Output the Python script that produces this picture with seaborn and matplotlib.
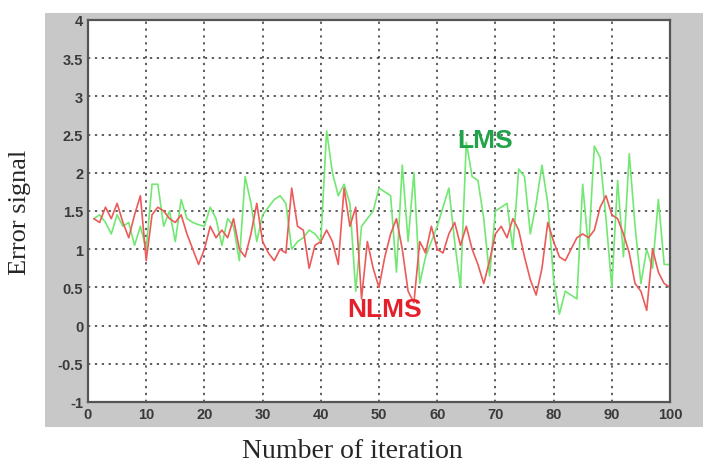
import numpy as np
import pandas as pd
import seaborn as sns
import matplotlib.pyplot as plt
from matplotlib.patches import Rectangle

# iteration index and error values
iterations = list(range(1, 101))

lms_error = [1.40, 1.45, 1.35, 1.20, 1.45, 1.30, 1.35, 1.05, 1.30, 1.00,
             1.85, 1.85, 1.30, 1.50, 1.10, 1.65, 1.40, 1.35, 1.32, 1.30,
             1.55, 1.40, 1.05, 1.40, 1.30, 0.85, 1.95, 1.60, 1.10, 1.45,
             1.55, 1.65, 1.70, 1.60, 1.00, 1.10, 1.15, 1.25, 1.20, 1.10,
             2.55, 2.00, 1.70, 1.85, 1.60, 0.45, 1.30, 1.40, 1.50, 1.80,
             1.75, 1.70, 0.70, 2.10, 1.10, 2.00, 0.55, 0.90, 1.10, 1.30,
             1.55, 1.80, 1.10, 0.50, 2.40, 1.95, 1.90, 1.40, 0.65, 1.50,
             1.55, 1.60, 1.00, 2.05, 1.95, 1.20, 1.60, 2.10, 1.60, 0.60,
             0.15, 0.45, 0.40, 0.35, 1.85, 1.00, 2.35, 2.20, 1.40, 0.50,
             1.90, 0.90, 2.25, 1.30, 0.55, 1.00, 0.75, 1.65, 0.80, 0.80]

nlms_error = [1.40, 1.35, 1.55, 1.40, 1.60, 1.35, 1.15, 1.45, 1.70, 0.85,
              1.45, 1.55, 1.50, 1.40, 1.35, 1.45, 1.20, 1.00, 0.80, 1.00,
              1.30, 1.15, 1.25, 1.15, 1.40, 1.00, 0.90, 1.20, 1.60, 1.10,
              0.95, 0.85, 1.00, 0.95, 1.80, 1.30, 1.25, 0.75, 1.05, 1.10,
              1.25, 1.10, 0.80, 1.80, 1.30, 1.55, 0.35, 1.10, 0.75, 0.50,
              0.90, 1.20, 1.40, 1.00, 0.45, 0.30, 1.10, 0.95, 1.30, 1.00,
              0.95, 1.20, 1.35, 1.05, 1.30, 1.00, 0.80, 0.55, 0.85, 1.20,
              1.30, 1.15, 1.40, 1.25, 0.90, 0.60, 0.40, 0.75, 1.35, 1.10,
              0.90, 0.85, 1.00, 1.15, 1.20, 1.15, 1.25, 1.55, 1.70, 1.45,
              1.40, 1.20, 0.95, 0.55, 0.45, 0.20, 1.00, 0.70, 0.55, 0.50]

df = pd.DataFrame({'iteration': iterations, 'LMS': lms_error, 'NLMS': nlms_error})

sns.set_style('white')
plt.rcParams['font.family'] = ['Liberation Sans', 'DejaVu Sans']

fig = plt.figure(figsize=(7.03, 4.64), dpi=100)

# grey matlab-like figure panel behind the axes
fig.add_artist(Rectangle((45 / 703, 1 - 428 / 464), (703 - 45) / 703, (428 - 14) / 464,
                         transform=fig.transFigure, facecolor='#c8c8c8',
                         edgecolor='none', zorder=-5))

ax = fig.add_axes([88 / 703, 1 - 403 / 464, (670 - 88) / 703, (403 - 21) / 464])
ax.set_zorder(2)
ax.set_facecolor('white')

sns.lineplot(data=df, x='iteration', y='LMS', ax=ax, color='#72e872', linewidth=1.2)
sns.lineplot(data=df, x='iteration', y='NLMS', ax=ax, color='#ec5a5a', linewidth=1.2)

ax.set_xlim(0, 100)
ax.set_ylim(-1, 4)
ax.set_xticks(np.arange(0, 101, 10))
ax.set_yticks(np.arange(-1, 4.01, 0.5))
ax.set_yticklabels(['-1', '-0.5', '0', '0.5', '1', '1.5', '2', '2.5', '3', '3.5', '4'])
ax.grid(True, linestyle=(0, (1.5, 3)), color='#333333', linewidth=1.1)
ax.tick_params(direction='in', length=4, colors='#444444', labelsize=10.5,
               labelcolor='#3a3a3a', width=1)
for lab in ax.get_xticklabels() + ax.get_yticklabels():
    lab.set_fontweight('bold')
for s in ax.spines.values():
    s.set_color('#555555')
    s.set_linewidth(1.6)

ax.set_xlabel('')
ax.set_ylabel('')

ax.text(68.2, 2.43, 'LMS', color='#22a34a', fontsize=19, fontweight='bold',
        ha='center', va='center')
ax.text(50.9, 0.22, 'NLMS', color='#e3202c', fontsize=19, fontweight='bold',
        ha='center', va='center')

fig.text(352 / 703, 1 - 452 / 464, 'Number of iteration', family='Liberation Serif',
         fontsize=20, ha='center', va='center')
fig.text(20 / 703, 1 - 212 / 464, 'Error signal', family='Liberation Serif',
         fontsize=19, ha='center', va='center', rotation=90)

fig.savefig('out.png', dpi=100)
